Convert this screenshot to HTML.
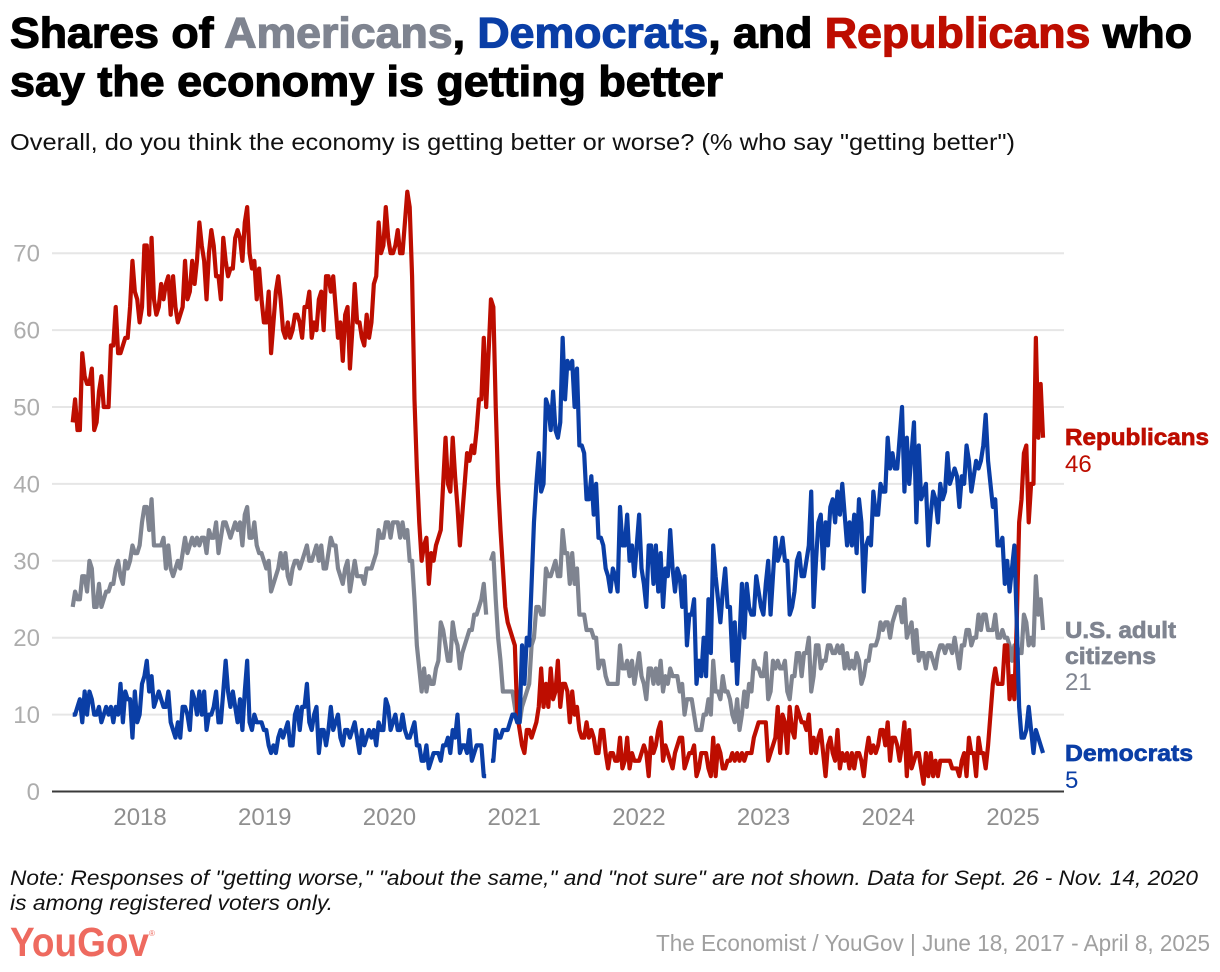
<!DOCTYPE html>
<html lang="en">
<head>
<meta charset="utf-8">
<title>Shares of Americans, Democrats, and Republicans who say the economy is getting better</title>
<style>
html,body{margin:0;padding:0;background:#fff;}
svg{display:block;font-family:"Liberation Sans",sans-serif;}
.title{font-size:43px;font-weight:700;fill:#000;stroke:#000;stroke-width:1.2px;}
</style>
</head>
<body>
<svg id="chart" xmlns="http://www.w3.org/2000/svg" width="1220" height="972" viewBox="0 0 1220 972">
  <rect x="0" y="0" width="1220" height="972" fill="#ffffff"/>
  <text class="title" x="10" y="47.5" textLength="1182" lengthAdjust="spacingAndGlyphs">Shares of <tspan fill="#7f8490" stroke="#7f8490">Americans</tspan>, <tspan fill="#0a3ea6" stroke="#0a3ea6">Democrats</tspan>, and <tspan fill="#bd0d00" stroke="#bd0d00">Republicans</tspan> who</text>
  <text class="title" x="10" y="96" textLength="713" lengthAdjust="spacingAndGlyphs">say the economy is getting better</text>
  <text x="10" y="150" font-size="23.5" fill="#111" textLength="1005" lengthAdjust="spacingAndGlyphs">Overall, do you think the economy is getting better or worse? (% who say "getting better")</text>
  <g id="grid"></g>
  <g id="yaxis"></g>
  <g id="xaxis"></g>
  <g id="series"></g>
  <g id="labels">
    <text x="1065" y="445" font-size="23" font-weight="700" fill="#bd0d00" stroke="#bd0d00" stroke-width=".7" textLength="144" lengthAdjust="spacingAndGlyphs">Republicans</text>
    <text id="rep-value" x="1065" y="472" font-size="24" fill="#bd0d00"></text>
    <text x="1065" y="638" font-size="23" font-weight="700" fill="#7f8490" stroke="#7f8490" stroke-width=".7" textLength="111" lengthAdjust="spacingAndGlyphs">U.S. adult</text>
    <text x="1065" y="664" font-size="23" font-weight="700" fill="#7f8490" stroke="#7f8490" stroke-width=".7" textLength="91" lengthAdjust="spacingAndGlyphs">citizens</text>
    <text id="all-value" x="1065" y="690" font-size="24" fill="#7f8490"></text>
    <text x="1065" y="761" font-size="23" font-weight="700" fill="#0a3ea6" stroke="#0a3ea6" stroke-width=".7" textLength="128" lengthAdjust="spacingAndGlyphs">Democrats</text>
    <text id="dem-value" x="1065" y="788" font-size="24" fill="#0a3ea6"></text>
  </g>
  <text x="10" y="885" font-size="21" font-style="italic" fill="#111" textLength="1188" lengthAdjust="spacingAndGlyphs">Note: Responses of "getting worse," "about the same," and "not sure" are not shown. Data for Sept. 26 - Nov. 14, 2020</text>
  <text x="10" y="910" font-size="21" font-style="italic" fill="#111" textLength="323" lengthAdjust="spacingAndGlyphs">is among registered voters only.</text>
  <text x="10" y="956" font-size="41" font-weight="700" fill="#ee6a5f" textLength="139" lengthAdjust="spacingAndGlyphs">YouGov</text>
  <text x="149" y="936" font-size="8" fill="#ee6a5f">®</text>
  <text x="1210" y="951" font-size="23" fill="#a0a0a0" text-anchor="end" textLength="554" lengthAdjust="spacingAndGlyphs">The Economist / YouGov | June 18, 2017 - April 8, 2025</text>
</svg>
<script>
// Weekly poll readings, one value per week from June 18, 2017 (null = gap in the series)
const startYear = 2017.46;
const weeksPerYear = 52.18;
const yTicks = [0, 10, 20, 30, 40, 50, 60, 70];
const xTickYears = [2018, 2019, 2020, 2021, 2022, 2023, 2024, 2025];
const republicans = [
48,51,47,47,57,54,53,53,55,47,48,52,54,50,50,50,58,58,63,57,
57,58,59,59,63,69,65,64,61,63,71,71,62,72,64,62,63,66,64,66,
67,62,67,63,61,62,63,69,64,65,69,66,69,74,71,69,64,70,73,71,
67,67,64,72,69,67,68,68,72,73,72,69,74,76,70,68,69,64,68,64,
61,61,65,57,61,65,67,64,60,59,61,59,60,62,62,61,59,63,63,65,
59,61,60,64,65,60,67,67,65,67,63,59,61,56,62,63,55,60,66,61,
61,59,58,62,59,61,66,67,74,70,71,76,72,70,70,71,73,70,70,74,
78,76,67,51,42,35,30,32,33,27,31,30,32,33,34,40,46,40,39,46,
41,37,32,36,40,44,43,45,44,47,51,51,59,50,57,64,63,50,40,34,
29,24,22,21,20,19,10,8,6,5,8,8,7,8,9,11,16,11,14,11,
16,12,13,17,11,14,14,13,9,13,10,11,8,7,7,9,7,8,7,5,
5,8,8,5,3,5,5,4,4,7,3,4,7,3,5,4,4,4,5,6,
5,2,7,5,6,8,9,4,6,5,4,3,5,6,7,7,3,4,5,5,
6,2,3,5,5,5,3,2,7,2,6,5,3,3,4,4,5,4,5,4,
5,4,5,5,5,7,8,9,9,9,9,4,5,6,7,11,5,10,9,5,
11,8,7,11,10,9,9,8,10,5,7,5,7,8,5,2,6,7,5,4,
8,3,5,4,5,3,5,3,5,5,4,2,5,7,5,6,5,6,8,8,
6,9,4,7,7,6,4,6,9,2,8,3,4,5,5,3,1,5,2,5,
2,4,2,4,4,4,4,4,3,3,3,2,4,5,2,7,5,5,2,7,
5,5,3,6,10,14,16,14,14,14,19,19,12,15,12,22,35,38,44,45,
35,40,40,59,46,53,46
];
const citizens = [
24,26,25,25,28,28,26,30,29,24,24,27,24,25,26,26,27,27,29,30,
28,27,30,29,30,32,31,31,32,35,37,37,34,38,32,32,32,32,33,29,
32,29,28,29,30,29,31,33,31,32,33,32,33,32,33,33,31,34,33,33,
35,31,33,35,35,34,33,34,35,34,35,32,36,37,33,33,35,32,31,31,
30,29,30,26,27,28,29,31,29,31,28,27,29,30,30,29,30,31,32,30,
30,31,32,30,32,29,29,31,33,32,32,29,28,27,29,30,26,28,30,28,
28,28,27,29,29,29,30,31,34,33,33,35,35,33,35,35,35,33,35,33,
34,30,30,25,19,16,13,16,13,15,14,14,16,17,22,21,19,17,17,22,
20,19,16,18,19,20,21,21,23,23,24,25,27,23,null,30,31,25,20,17,
13,13,13,13,13,11,9,9,11,12,13,14,19,20,24,24,23,23,29,28,
28,29,30,28,28,34,31,31,27,31,27,29,23,23,23,21,21,21,20,20,
16,17,17,15,14,14,14,14,14,19,16,16,17,15,17,14,16,18,15,14,
12,16,16,14,16,14,17,13,15,14,16,15,15,15,13,14,10,12,12,12,
10,8,8,8,10,10,12,10,17,13,13,12,15,13,13,12,10,9,12,8,
10,13,11,14,13,17,16,16,15,15,18,12,13,17,16,17,16,16,17,13,
12,15,15,18,18,15,18,18,20,13,15,19,19,16,17,17,19,19,18,18,
19,18,19,16,18,16,17,16,18,17,14,15,17,17,19,19,19,20,22,21,
22,22,20,22,23,24,24,22,25,20,21,22,18,21,17,18,18,16,18,18,
17,16,18,19,19,18,19,19,18,20,18,16,19,19,21,21,19,20,20,23,
21,23,23,21,21,21,23,20,20,21,20,20,19,17,19,19,18,18,23,22,
19,20,19,28,23,25,21
];
const democrats = [
10,10,11,12,9,13,10,13,12,10,10,11,9,10,11,10,11,9,11,10,
14,9,13,12,12,7,13,9,10,14,15,17,13,15,11,12,13,12,11,11,
13,9,8,7,9,7,11,11,10,8,13,12,10,13,10,13,8,10,10,11,
13,9,9,13,17,13,11,13,11,9,12,8,13,17,9,8,10,9,9,9,
8,8,6,5,6,5,7,8,7,8,9,6,6,10,11,8,11,11,14,9,
8,10,11,5,8,8,6,8,11,8,9,10,7,6,8,8,7,8,9,7,
5,8,6,7,8,7,8,6,9,8,8,12,11,8,9,10,8,8,10,8,
7,7,8,9,6,6,4,4,6,3,4,5,5,5,4,6,6,7,5,8,
7,10,5,6,6,5,8,4,5,6,6,6,2,2,null,4,4,8,7,7,
8,8,8,9,10,10,9,9,19,14,20,19,27,35,40,44,39,40,51,50,
47,52,47,46,48,59,51,56,55,56,50,55,45,45,44,38,38,41,36,40,
33,33,32,29,28,26,29,28,26,37,32,32,36,30,32,28,32,36,29,27,
24,32,32,27,32,26,31,24,29,28,34,29,26,29,28,24,28,19,23,23,
25,14,17,15,20,15,25,18,32,28,25,22,26,29,24,24,17,22,14,20,
27,20,27,24,23,23,28,26,24,23,27,30,23,28,33,30,31,33,30,30,
23,24,26,30,31,28,28,30,32,39,24,30,35,36,29,35,32,37,38,35,
39,36,40,36,32,35,32,36,31,38,35,26,32,33,32,39,36,36,40,39,
39,46,42,44,42,42,46,50,39,46,40,44,48,35,45,38,39,40,32,36,
39,38,35,40,38,39,44,40,41,42,41,37,41,40,45,43,39,41,43,42,
43,45,49,43,40,37,38,32,32,33,27,30,26,29,32,22,11,7,7,8,
11,8,5,8,7,6,5
];

const NS = 'http://www.w3.org/2000/svg';
function yScale(v) { return 791.5 - v * 7.69; }
function xScale(year) { return 72.7 + (year - startYear) * weeksPerYear * 2.39; }
function xWeek(i) { return xScale(startYear + i / weeksPerYear); }

const gridGroup = document.getElementById('grid');
const yGroup = document.getElementById('yaxis');
const xGroup = document.getElementById('xaxis');
const seriesGroup = document.getElementById('series');

yTicks.forEach(function (t) {
  const line = document.createElementNS(NS, 'line');
  
  
  line.setAttribute('x1', 52);
  line.setAttribute('x2', 1064);
  line.setAttribute('y1', yScale(t));
  line.setAttribute('y2', yScale(t));
  line.setAttribute('stroke', t === 0 ? '#3a3a3a' : '#e6e6e6');
  line.setAttribute('stroke-width', 2);
  gridGroup.appendChild(line);

  const label = document.createElementNS(NS, 'text');
  
  
  label.setAttribute('x', 40);
  label.setAttribute('y', yScale(t) + 8.5);
  label.setAttribute('text-anchor', 'end');
  label.setAttribute('font-size', 24);
  label.setAttribute('fill', '#adadad');
  label.textContent = t;
  yGroup.appendChild(label);
});

xTickYears.forEach(function (yr) {
  const label = document.createElementNS(NS, 'text');
  
  
  label.setAttribute('x', xScale(yr));
  label.setAttribute('y', 825);
  label.setAttribute('text-anchor', 'middle');
  label.setAttribute('font-size', 24);
  label.setAttribute('fill', '#8f8f8f');
  label.textContent = yr;
  xGroup.appendChild(label);
});

function linePath(values) {
  let d = '';
  let pen = false;
  values.forEach(function (v, i) {
    if (v === null) { pen = false; return; }
    d += (pen ? 'L' : 'M') + xWeek(i).toFixed(2) + ' ' + yScale(v).toFixed(2);
    pen = true;
  });
  return d;
}

const citizensLine = document.createElementNS(NS, 'path');


citizensLine.setAttribute('d', linePath(citizens));
citizensLine.setAttribute('fill', 'none');
citizensLine.setAttribute('stroke', '#7f8490');
citizensLine.setAttribute('stroke-width', 4.2);
citizensLine.setAttribute('stroke-linejoin', 'round');
seriesGroup.appendChild(citizensLine);

const republicansLine = document.createElementNS(NS, 'path');


republicansLine.setAttribute('d', linePath(republicans));
republicansLine.setAttribute('fill', 'none');
republicansLine.setAttribute('stroke', '#bd0d00');
republicansLine.setAttribute('stroke-width', 4.2);
republicansLine.setAttribute('stroke-linejoin', 'round');
seriesGroup.appendChild(republicansLine);

const democratsLine = document.createElementNS(NS, 'path');


democratsLine.setAttribute('d', linePath(democrats));
democratsLine.setAttribute('fill', 'none');
democratsLine.setAttribute('stroke', '#0a3ea6');
democratsLine.setAttribute('stroke-width', 4.2);
democratsLine.setAttribute('stroke-linejoin', 'round');
seriesGroup.appendChild(democratsLine);

document.getElementById('rep-value').textContent = republicans[republicans.length - 1];
document.getElementById('all-value').textContent = citizens[citizens.length - 1];
document.getElementById('dem-value').textContent = democrats[democrats.length - 1];
</script>
</body>
</html>
